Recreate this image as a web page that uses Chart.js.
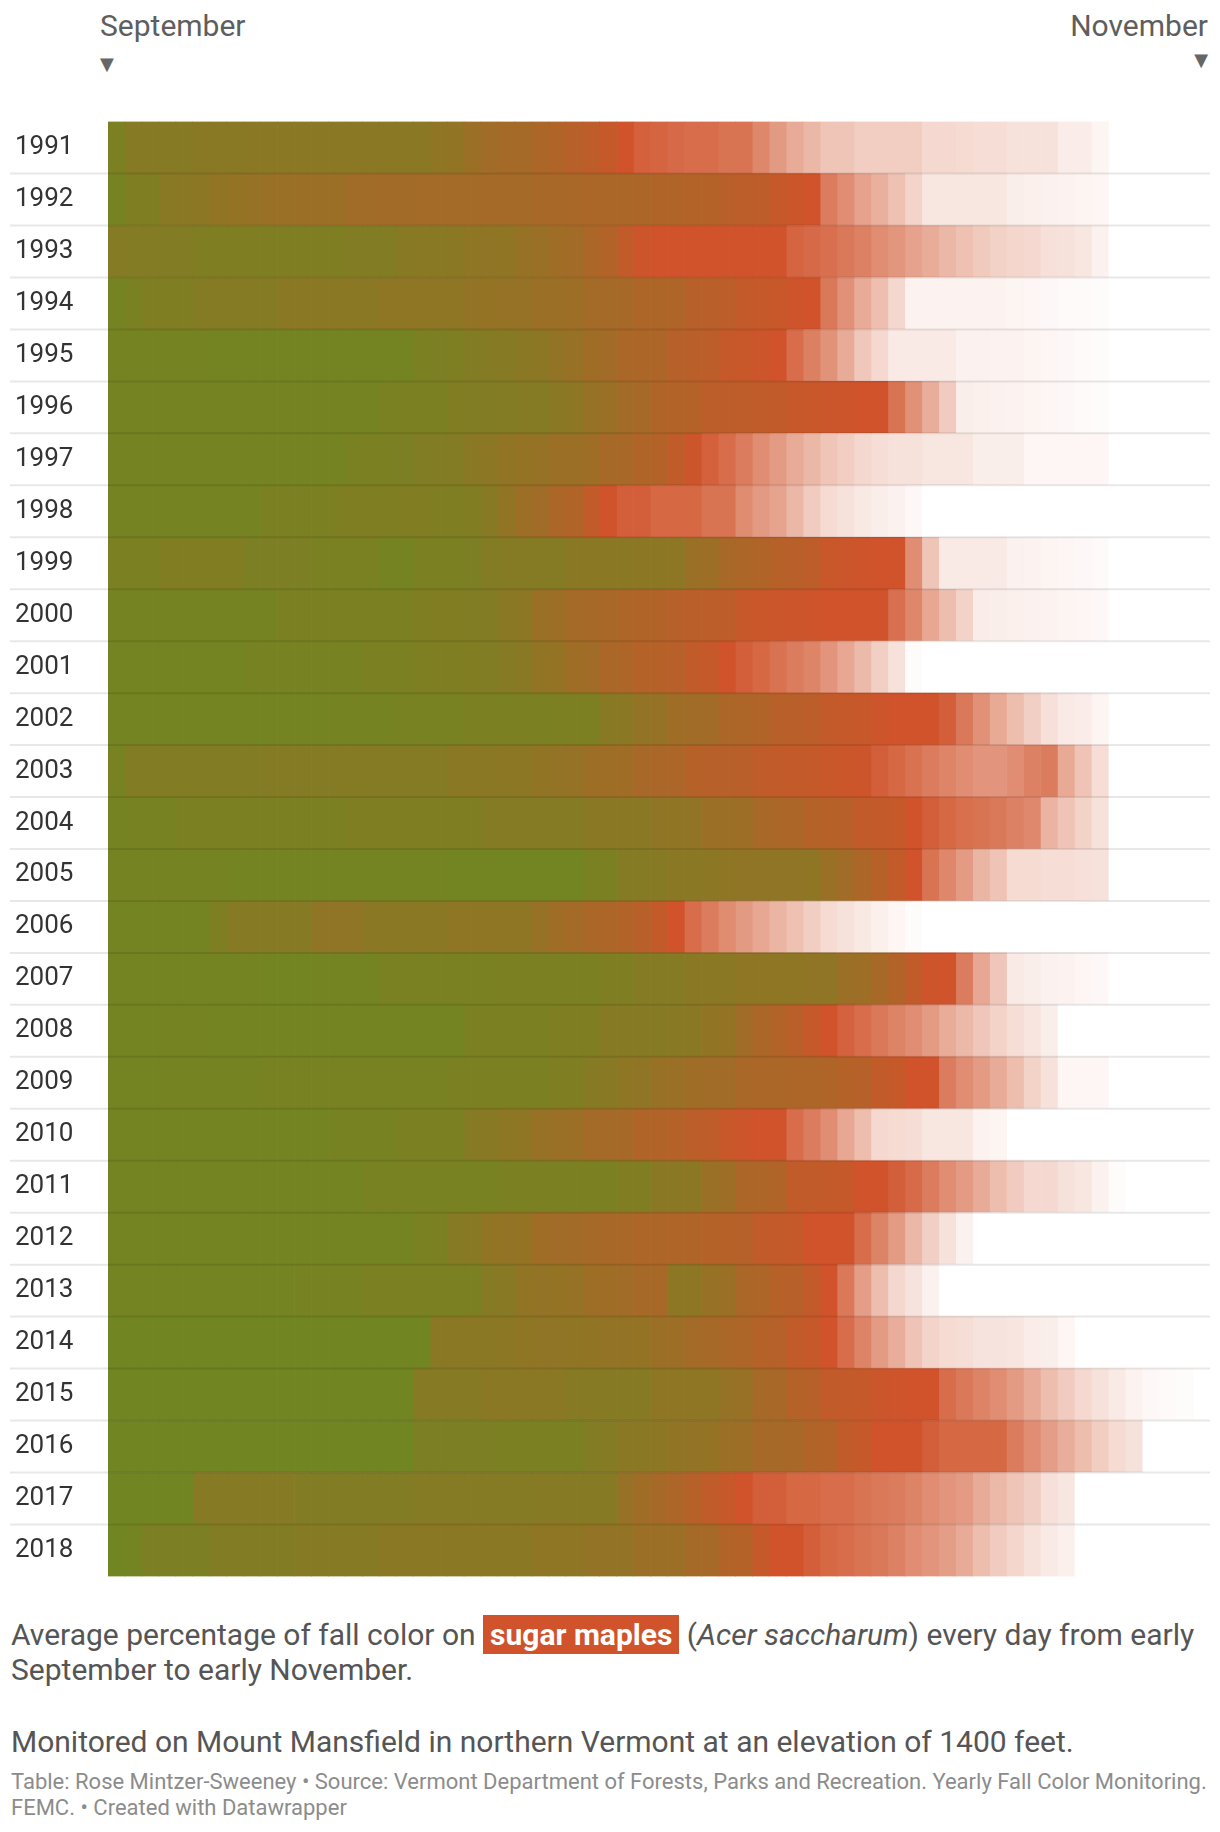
<!DOCTYPE html>
<html>
<head>
<meta charset="utf-8">
<script src="https://cdn.jsdelivr.net/npm/chart.js@4.4.0/dist/chart.umd.min.js"></script>
<style>
  html, body { margin: 0; padding: 0; background: #fff; }
  body { width: 1220px; height: 1832px; position: relative; overflow: hidden; font-family: Roboto, sans-serif; }
  .abs { position: absolute; white-space: nowrap; }
  .month { font-size: 30px; line-height: 30px; color: #5e5e5e; }
  .arrow { font-family: "DejaVu Sans", sans-serif; font-size: 18px; line-height: 18px; color: #666; }
  /* chart area itself is 122..1576; the y axis adds half a label height above and below */
  #chartBox { position: absolute; left: 0; top: 106px; width: 1220px; height: 1486px; }
  .desc { left: 11px; font-size: 30px; line-height: 35px; color: #555; }
  .hl { background: #d0532b; color: #fff; font-weight: 700; padding: 2px 7px; }
  .src { left: 11px; top: 1769px; font-size: 22px; line-height: 26px; color: #8c8c8c; }
</style>
</head>
<body>
<div class="abs month" style="left:100px; top:11px;">September</div>
<div class="abs arrow" style="left:100px; top:55px;">▼</div>
<div class="abs month" style="right:12px; top:11px;">November</div>
<div class="abs arrow" style="right:12px; top:51px;">▼</div>

<div id="chartBox"><canvas id="myChart"></canvas></div>

<div class="abs desc" style="top:1617px;">Average percentage of fall color on <span class="hl">sugar maples</span> (<i>Acer saccharum</i>) every day from early<br>September to early November.</div>
<div class="abs desc" style="top:1724px;">Monitored on Mount Mansfield in northern Vermont at an elevation of 1400 feet.</div>
<div class="abs src">Table: Rose Mintzer-Sweeney • Source: Vermont Department of Forests, Parks and Recreation. Yearly Fall Color Monitoring.<br>FEMC. • Created with Datawrapper</div>

<script>
const ctx = document.getElementById('myChart').getContext('2d');

const years = ['1991', '1992', '1993', '1994', '1995', '1996', '1997', '1998', '1999', '2000',
  '2001', '2002', '2003', '2004', '2005', '2006', '2007', '2008', '2009', '2010',
  '2011', '2012', '2013', '2014', '2015', '2016', '2017', '2018'];
const dayCount = 65; // Sept 1 .. Nov 4

// daily stage: 0 = all green, 100 = full red, 100..200 = leaves dropping (fades to white)
const c1991 = [10,22,22,22,22,25,25,25,27,27,27,27,27,27,27,27,27,27,27,33,35,45,50,55,55,62,66,75,80,88,100,108,110,113,115,115,119,119,130,141,151,158,166,166,171,171,171,171,178,178,179,180,180,183,183,183,189,189,194,200,200,200,200,200,200];
const c1992 = [5,15,15,25,27,28,35,37,38,42,43,44,45,45,50,50,52,52,53,53,54,54,55,55,55,58,58,59,60,60,61,62,66,67,69,70,76,78,80,88,94,100,124,134,146,154,164,175,186,186,186,186,186,190,191,192,193,194,195,200,200,200,200,200,200];
const c1993 = [20,19,19,18,18,15,15,15,15,15,15,15,15,15,18,18,18,24,25,25,26,31,32,33,40,42,48,52,62,68,85,97,100,100,100,100,100,100,100,100,110,113,117,122,127,134,139,146,152,158,164,169,173,176,178,182,183,186,192,200,200,200,200,200,200];
const c1994 = [5,8,15,15,15,20,20,20,20,20,26,26,26,26,26,26,30,30,30,30,30,36,37,38,39,44,45,46,54,55,56,63,64,65,74,76,78,86,88,92,98,100,122,136,151,163,177,193,193,193,193,193,193,194,195,196,197,197,198,200,200,200,200,200,200];
const c1995 = [5,4,4,4,4,4,3,3,3,3,3,3,3,3,3,3,3,3,10,12,14,18,20,22,26,28,36,40,48,52,60,62,64,74,76,78,88,92,96,100,115,126,137,151,168,178,188,188,188,188,192,192,193,193,194,195,196,197,198,200,200,200,200,200,200];
const c1996 = [4,4,4,4,4,4,4,4,4,4,4,4,4,4,4,4,9,10,10,11,16,17,18,19,20,20,27,29,38,42,52,56,66,68,70,78,80,81,82,84,90,92,95,97,100,100,119,136,153,170,190,191,192,193,194,195,196,197,198,200,200,200,200,200,200];
const c1997 = [5,5,4,4,4,4,4,4,4,4,4,4,4,4,8,10,10,12,17,18,19,26,28,35,37,39,44,45,47,56,58,67,69,82,97,108,115,124,134,142,151,158,166,171,177,180,183,183,186,186,186,190,190,190,195,195,195,195,195,200,200,200,200,200,200];
const c1998 = [5,5,5,5,5,5,5,5,5,10,10,10,10,14,15,15,15,16,16,15,15,16,24,35,46,50,62,66,85,100,107,107,112,112,112,119,119,133,141,147,158,170,179,183,187,190,192,196,200,200,200,200,200,200,200,200,200,200,200,200,200,200,200,200,200];
const c1999 = [10,10,10,16,16,16,16,16,12,12,12,12,8,8,8,8,4,4,10,11,11,12,19,20,20,21,21,26,27,27,27,28,28,29,42,46,58,62,66,72,76,80,92,95,98,100,100,134,166,188,188,188,188,192,193,194,195,196,197,200,200,200,200,200,200];
const c2000 = [4,4,4,4,4,4,4,4,4,4,10,10,10,10,10,10,10,10,15,16,16,17,18,26,28,42,46,55,57,59,64,66,68,75,77,78,80,90,93,95,97,98,100,100,100,100,117,130,149,162,174,189,190,191,192,193,194,195,196,200,200,200,200,200,200];
const c2001 = [3,3,3,3,3,3,3,3,6,6,6,6,6,6,6,10,10,10,14,15,15,16,17,23,25,35,37,47,50,60,64,70,72,74,84,88,100,107,112,118,124,129,138,149,160,172,183,198,200,200,200,200,200,200,200,200,200,200,200,200,200,200,200,200,200];
const c2002 = [3,3,3,3,3,3,3,3,3,3,3,3,3,5,5,5,5,7,7,7,7,10,10,10,10,10,13,13,13,24,26,36,38,48,50,52,62,64,66,74,76,78,86,88,90,96,100,100,100,107,122,136,150,162,172,182,188,189,194,200,200,200,200,200,200];
const c2003 = [6,18,18,18,18,18,18,18,18,20,20,20,20,20,20,20,20,20,20,20,26,27,27,28,28,35,36,38,46,47,49,58,60,62,72,74,75,76,83,85,86,87,92,94,96,107,112,118,124,129,134,138,138,134,127,124,150,165,180,200,200,200,200,200,200];
const c2004 = [5,6,6,6,10,10,10,10,10,10,10,10,10,10,15,15,15,15,15,15,15,15,21,21,21,21,21,21,27,27,27,27,32,33,34,44,45,46,58,60,62,70,72,74,84,86,88,100,107,112,116,119,122,127,131,156,165,174,183,200,200,200,200,200,200];
const c2005 = [4,4,5,5,5,5,5,3,3,3,3,3,3,3,3,3,3,3,3,3,1,1,1,1,1,1,1,1,8,11,20,21,22,26,27,28,31,32,32,32,32,30,42,50,62,72,86,100,119,130,142,157,165,179,179,180,180,182,183,200,200,200,200,200,200];
const c2006 = [3,3,3,3,3,3,14,22,22,22,22,22,32,32,32,27,27,27,27,27,30,30,30,30,30,40,48,54,60,64,68,74,86,100,115,124,133,141,149,157,164,171,179,183,187,191,195,198,200,200,200,200,200,200,200,200,200,200,200,200,200,200,200,200,200];
const c2007 = [3,3,3,3,3,3,3,3,3,1,1,1,3,3,3,3,8,8,8,8,8,8,8,10,10,10,10,10,10,15,15,21,21,21,27,27,27,30,30,31,31,32,32,44,46,57,68,84,98,100,124,149,167,188,190,192,193,195,196,200,200,200,200,200,200];
const c2008 = [3,3,3,5,5,5,3,3,3,3,3,3,3,3,3,3,3,3,3,3,3,10,10,10,10,10,15,15,15,22,22,23,23,24,25,35,37,50,60,68,77,88,100,109,115,122,128,134,142,152,159,167,174,180,185,190,200,200,200,200,200,200,200,200,200];
const c2009 = [3,3,3,5,5,5,5,5,5,7,7,7,7,7,7,7,7,7,7,7,10,10,10,10,10,10,15,15,22,24,30,32,41,43,49,50,51,59,60,61,63,64,65,71,73,85,88,100,100,124,134,142,151,162,174,183,195,195,195,200,200,200,200,200,200];
const c2010 = [3,3,3,3,3,3,3,3,3,3,3,3,3,6,6,6,6,10,10,10,10,22,24,29,31,40,42,44,53,55,57,66,68,70,78,81,92,96,100,100,115,124,134,149,162,178,179,180,186,186,186,193,194,200,200,200,200,200,200,200,200,200,200,200,200];
const c2011 = [3,3,3,3,3,3,3,3,3,3,3,3,3,3,3,7,7,7,7,7,7,7,7,10,10,10,10,10,10,10,16,16,26,27,28,42,46,62,64,66,84,85,86,88,100,100,107,114,124,134,142,151,162,170,178,178,183,186,192,198,200,200,200,200,200];
const c2012 = [3,3,3,3,3,3,3,3,3,3,3,3,3,3,3,3,3,3,9,11,22,24,35,36,37,49,50,52,57,58,59,63,64,65,66,71,72,73,84,86,88,100,100,100,115,128,142,158,172,183,192,200,200,200,200,200,200,200,200,200,200,200,200,200,200];
const c2013 = [3,3,3,3,3,3,3,3,3,3,3,6,6,6,6,10,10,10,10,10,10,10,22,24,35,36,37,38,47,48,50,56,58,29,29,40,42,60,64,72,74,86,100,122,143,162,177,184,192,200,200,200,200,200,200,200,200,200,200,200,200,200,200,200,200];
const c2014 = [0,0,0,0,0,0,0,0,0,0,0,0,0,0,0,0,0,0,0,26,26,27,27,28,31,32,32,33,35,36,36,37,44,46,54,56,61,63,71,73,85,88,100,115,128,142,153,165,175,179,180,184,184,185,189,190,195,200,200,200,200,200,200,200,200];
const c2015 = [0,0,0,0,0,0,0,0,0,0,0,0,0,0,0,0,0,0,23,23,23,23,27,27,27,27,27,22,22,22,22,22,30,30,30,30,39,41,56,58,71,73,85,86,88,95,98,100,100,115,122,128,134,142,151,162,170,178,183,188,193,196,197,198,200];
const c2016 = [0,0,0,0,0,0,0,0,0,0,0,0,0,0,0,0,0,0,12,12,12,12,12,10,10,10,10,10,18,20,26,27,28,35,36,37,44,46,56,57,58,67,69,85,88,100,100,100,107,112,112,112,112,124,134,143,153,162,171,179,183,200,200,200,200];
const c2017 = [0,0,0,0,0,23,23,23,23,23,23,18,18,18,18,18,18,18,21,21,21,21,21,21,21,23,23,23,23,23,40,48,57,64,72,82,90,100,107,107,112,112,115,115,119,122,124,128,134,138,142,151,159,166,172,182,186,200,200,200,200,200,200,200,200];
const c2018 = [0,3,12,12,12,12,18,18,18,18,18,23,23,23,23,23,26,26,26,26,26,27,27,27,27,30,30,30,36,36,36,45,45,45,55,56,68,70,88,100,100,107,112,115,119,122,127,134,138,143,151,162,170,176,183,188,191,200,200,200,200,200,200,200,200];

const rows = [c1991, c1992, c1993, c1994, c1995, c1996, c1997, c1998, c1999, c2000,
  c2001, c2002, c2003, c2004, c2005, c2006, c2007, c2008, c2009, c2010,
  c2011, c2012, c2013, c2014, c2015, c2016, c2017, c2018];

const green = [113, 133, 34];
const red = [208, 83, 43];
const white = [255, 255, 255];

const mix = (a, b, t) => 'rgb(' + a.map((v, i) => Math.round(v + (b[i] - v) * t)).join(',') + ')';

const stageColor = (v) => {
  if (v >= 200) return '#ffffff';
  if (v <= 100) return mix(green, red, v / 100);
  return mix(red, white, (v - 100) / 100);
};

// one dataset per day, each day is one unit on the x axis
const datasets = [];
for (let d = 0; d < dayCount; d++) {
  datasets.push({
    label: 'Day ' + (d + 1),
    data: years.map(() => 1),
    backgroundColor: rows.map(r => stageColor(r[d])),
    borderWidth: 0,
    barPercentage: 1,
    categoryPercentage: 1
  });
}

// thin row dividers on top of the cells
const rowLines = {
  id: 'rowLines',
  afterDatasetsDraw(chart) {
    const c = chart.ctx;
    const yScale = chart.scales.y;
    c.save();
    c.strokeStyle = 'rgba(0,0,0,0.09)';
    c.lineWidth = 2;
    for (let i = 0; i < years.length - 1; i++) {
      const y = (yScale.getPixelForValue(i) + yScale.getPixelForValue(i + 1)) / 2;
      c.beginPath();
      c.moveTo(10, y);
      c.lineTo(1210, y);
      c.stroke();
    }
    c.restore();
  }
};

const myChart = new Chart(ctx, {
  type: 'bar',
  data: { labels: years, datasets: datasets },
  options: {
    indexAxis: 'y',
    responsive: true,
    maintainAspectRatio: false,
    animation: false,
    layout: { padding: { left: 15, right: 10, top: 0, bottom: 0 } },
    plugins: {
      legend: { display: false },
      tooltip: { enabled: false }
    },
    scales: {
      x: { stacked: true, min: 0, max: dayCount, display: false },
      y: {
        stacked: true,
        grid: { display: false, drawTicks: false },
        border: { display: false },
        ticks: {
          crossAlign: 'far',
          padding: 0,
          color: '#333',
          font: { family: 'Roboto', size: 26 }
        },
        afterFit(scale) { scale.width = 93; }
      }
    }
  },
  plugins: [rowLines]
});
</script>
</body>
</html>
